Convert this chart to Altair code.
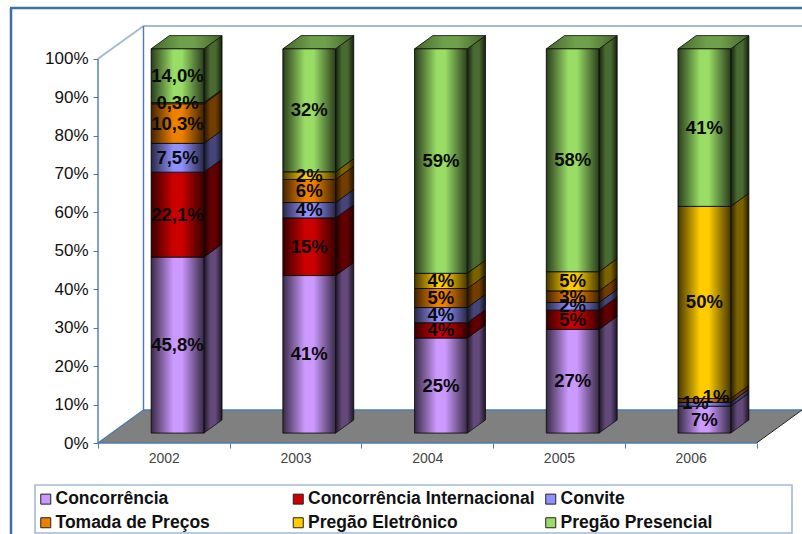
import altair as alt
import pandas as pd

# Share of purchases per bidding type, by year (percent labels as published)
years = ["2002", "2003", "2004", "2005", "2006"]
series = ["Concorrência", "Concorrência Internacional", "Convite",
          "Tomada de Preços", "Pregão Eletrônico", "Pregão Presencial"]
concorrencia = [45.8, 41, 25, 27, 7]
internacional = [22.1, 15, 4, 5, 0]
convite = [7.5, 4, 4, 2, 1]
tomada = [10.3, 6, 5, 3, 1]
eletronico = [0.3, 2, 4, 5, 50]
presencial = [14.0, 32, 59, 58, 41]
columns = [concorrencia, internacional, convite, tomada, eletronico, presencial]
colors = ["#CC99FF", "#CC0000", "#9090FF", "#EE8000", "#FFCC00", "#99DD66"]

# Oblique projection of the box: full floor depth, and the slab the columns occupy
DEPTH_X, DEPTH_Y = 0.3455, 8.58
FRONT, BACK = 0.30, 0.70
BAR_W = 0.40
X_MAX, Y_MAX = 5.345, 108.51

# Two crowded 2006 labels sit beside each other instead of on top of each other
label_shift = {("2006", "Convite"): (-0.068, 0.4), ("2006", "Tomada de Preços"): (0.09, 1.0)}

rows = []
for i, year in enumerate(years):
    total = sum(col[i] for col in columns)
    base = 0.0
    last = max(j for j, col in enumerate(columns) if col[i] > 0)
    for j, name in enumerate(series):
        v = columns[j][i]
        if v <= 0:
            continue
        share = v / total * 100
        x0 = i + 0.5 + FRONT * DEPTH_X - BAR_W / 2
        x1 = x0 + BAR_W
        y0 = base + FRONT * DEPTH_Y
        y1 = y0 + share
        text = f"{v:.1f}".replace(".", ",") + "%" if i == 0 else f"{v:.0f}%"
        sx, sy = label_shift.get((year, name), (0, 0))
        rows.append(dict(year=year, series=name, x0=x0, x1=x1, y0=y0, y1=y1,
                         text=text, lx=(x0 + x1) / 2 + sx, ly=(y0 + y1) / 2 + sy,
                         last=j == last))
        base += share
front = pd.DataFrame(rows)

side_depth_x = (BACK - FRONT) * DEPTH_X
side_depth_y = (BACK - FRONT) * DEPTH_Y
side_rows, top_rows = [], []
for r in rows:
    key = r["year"] + r["series"]
    side_rows.append(dict(key=key, series=r["series"], x=r["x1"], lo=r["y0"], hi=r["y1"]))
    side_rows.append(dict(key=key, series=r["series"], x=r["x1"] + side_depth_x,
                          lo=r["y0"] + side_depth_y, hi=r["y1"] + side_depth_y))
    if r["last"]:
        t = r["y1"]
        for x, lo, hi in [(r["x0"], t, t), (r["x0"] + side_depth_x, t, t + side_depth_y),
                          (r["x1"], t, t + side_depth_y), (r["x1"] + side_depth_x, t + side_depth_y, t + side_depth_y)]:
            top_rows.append(dict(key=key, series=r["series"], x=x, lo=lo, hi=hi))
side = pd.DataFrame(side_rows)
top = pd.DataFrame(top_rows)

floor = pd.DataFrame([dict(x=0, lo=0, hi=0), dict(x=DEPTH_X, lo=0, hi=DEPTH_Y),
                      dict(x=5, lo=0, hi=DEPTH_Y), dict(x=5 + DEPTH_X, lo=DEPTH_Y, hi=DEPTH_Y)])

segments_dark = pd.DataFrame([
    dict(x=0, y=0, x2=0, y2=100), dict(x=0, y=0, x2=5, y2=0),
    dict(x=0, y=0, x2=DEPTH_X, y2=DEPTH_Y),
    dict(x=DEPTH_X, y=DEPTH_Y, x2=DEPTH_X, y2=Y_MAX),
    dict(x=DEPTH_X, y=DEPTH_Y, x2=X_MAX, y2=DEPTH_Y)])
segments_light = pd.DataFrame([
    dict(x=0, y=100, x2=DEPTH_X, y2=Y_MAX), dict(x=DEPTH_X, y=Y_MAX, x2=X_MAX, y2=Y_MAX)])
segments_edge = pd.DataFrame([dict(x=5, y=0, x2=5 + DEPTH_X, y2=DEPTH_Y)])

BLUE = "#4A7BB5"
LIGHT = "#A3BAD3"
FONT = "Liberation Sans"

x_scale = alt.Scale(domain=[0, X_MAX], nice=False, zero=False)
y_scale = alt.Scale(domain=[0, Y_MAX], nice=False, zero=False)
x_axis = alt.Axis(values=[0, 1, 2, 3, 4, 5], title=None, grid=False, domain=False,
                  tickColor=BLUE, tickSize=5, labelOffset=65.8, labelPadding=3,
                  labelFlush=False, labelOverlap=False, labelFont=FONT, labelFontSize=14,
                  labelColor="#444444",
                  labelExpr="datum.value < 5 ? toString(2002 + datum.value) : ''")
y_axis = alt.Axis(values=list(range(0, 101, 10)), title=None, grid=False, domain=False,
                  tickColor=BLUE, tickSize=5, labelPadding=5, labelFont=FONT, labelFontSize=17,
                  labelColor="#111111", labelExpr="datum.value + '%'")


def X(field):
    return alt.X(f"{field}:Q", scale=x_scale, axis=x_axis)


def Y(field):
    return alt.Y(f"{field}:Q", scale=y_scale, axis=y_axis, stack=None)


def edge_gradient(outer, inner, band=0.3):
    # Horizontal shading laid over a solid face, darker toward both edges
    return alt.Gradient(gradient="linear", x1=0, x2=1, y1=0, y2=0, stops=[
        alt.GradientStop(color=f"rgba(0,0,0,{outer})", offset=0),
        alt.GradientStop(color=f"rgba(0,0,0,{inner})", offset=band),
        alt.GradientStop(color=f"rgba(0,0,0,{inner})", offset=1 - band),
        alt.GradientStop(color=f"rgba(0,0,0,{outer})", offset=1)])


def rules(df, color, width):
    return alt.Chart(df).mark_rule(color=color, strokeWidth=width).encode(
        x=X("x"), x2="x2:Q", y=Y("y"), y2="y2:Q")


legend = alt.Legend(
    title=None, orient="none", legendX=-66, legendY=459, columns=3, gridAlign="all",
    direction="horizontal", columnPadding=6.5, rowPadding=5, padding=5,
    symbolType="square", symbolSize=100, symbolStrokeColor="#222222", symbolStrokeWidth=1,
    symbolOpacity=1, labelFont=FONT, labelFontSize=17.5, labelFontWeight="bold",
    labelColor="#111111", labelLimit=400, labelOffset=1)
color = alt.Color("series:N", scale=alt.Scale(domain=series, range=colors), legend=legend)

one_row = pd.DataFrame({"a": [0]})
frame_top = alt.Chart(one_row).mark_rule(color="#3F6FA5", strokeWidth=2.5).encode(
    x=alt.value(-88), x2=alt.value(704), y=alt.value(-18))
frame_left = alt.Chart(one_row).mark_rule(color="#3F6FA5", strokeWidth=2.5).encode(
    x=alt.value(-87), y=alt.value(-18), y2=alt.value(508))
legend_box = alt.Chart(one_row).mark_rect(fill="white", stroke=LIGHT, strokeWidth=1.6).encode(
    x=alt.value(-63), x2=alt.value(694), y=alt.value(459), y2=alt.value(507))

floor_layer = alt.Chart(floor).mark_area(color="#808080").encode(x=X("x"), y=Y("lo"), y2="hi:Q")

side_base = alt.Chart(side).mark_area(stroke="#111111", strokeWidth=0.8).encode(
    x=X("x"), y=Y("lo"), y2="hi:Q", color=color, detail="key:N")
side_shade = alt.Chart(side).mark_area(color=edge_gradient(0.85, 0.52, 0.35)).encode(
    x=X("x"), y=Y("lo"), y2="hi:Q", detail="key:N")

top_base = alt.Chart(top).mark_area(stroke="#111111", strokeWidth=0.8).encode(
    x=X("x"), y=Y("lo"), y2="hi:Q", color=color, detail="key:N")
top_shade = alt.Chart(top).mark_area(color=edge_gradient(0.55, 0.28, 0.4)).encode(
    x=X("x"), y=Y("lo"), y2="hi:Q", detail="key:N")

front_base = alt.Chart(front).mark_bar(stroke="#111111", strokeWidth=0.9).encode(
    x=X("x0"), x2="x1:Q", y=Y("y0"), y2="y1:Q", color=color)
front_shade = alt.Chart(front).mark_bar(color=edge_gradient(0.72, 0.0, 0.42)).encode(
    x=X("x0"), x2="x1:Q", y=Y("y0"), y2="y1:Q")

labels = alt.Chart(front).mark_text(font=FONT, fontSize=18.5, fontWeight="bold", color="#0A0A0A",
                                    align="center", baseline="middle").encode(
    x=X("lx"), y=Y("ly"), text="text:N")

chart = alt.layer(
    frame_top, frame_left, legend_box, rules(segments_light, LIGHT, 2), floor_layer,
    rules(segments_dark, BLUE, 1.4), rules(segments_edge, "#222222", 1),
    side_base, side_shade, top_base, top_shade, front_base, front_shade, labels
).properties(
    width=704, height=417,
    padding={"left": 98, "top": 26, "right": 0, "bottom": 91},
    autosize=alt.AutoSizeParams(type="none"),
    background="white",
).configure_view(stroke=None)

chart.save("out.html", embed_options={"renderer": "svg", "actions": False})
